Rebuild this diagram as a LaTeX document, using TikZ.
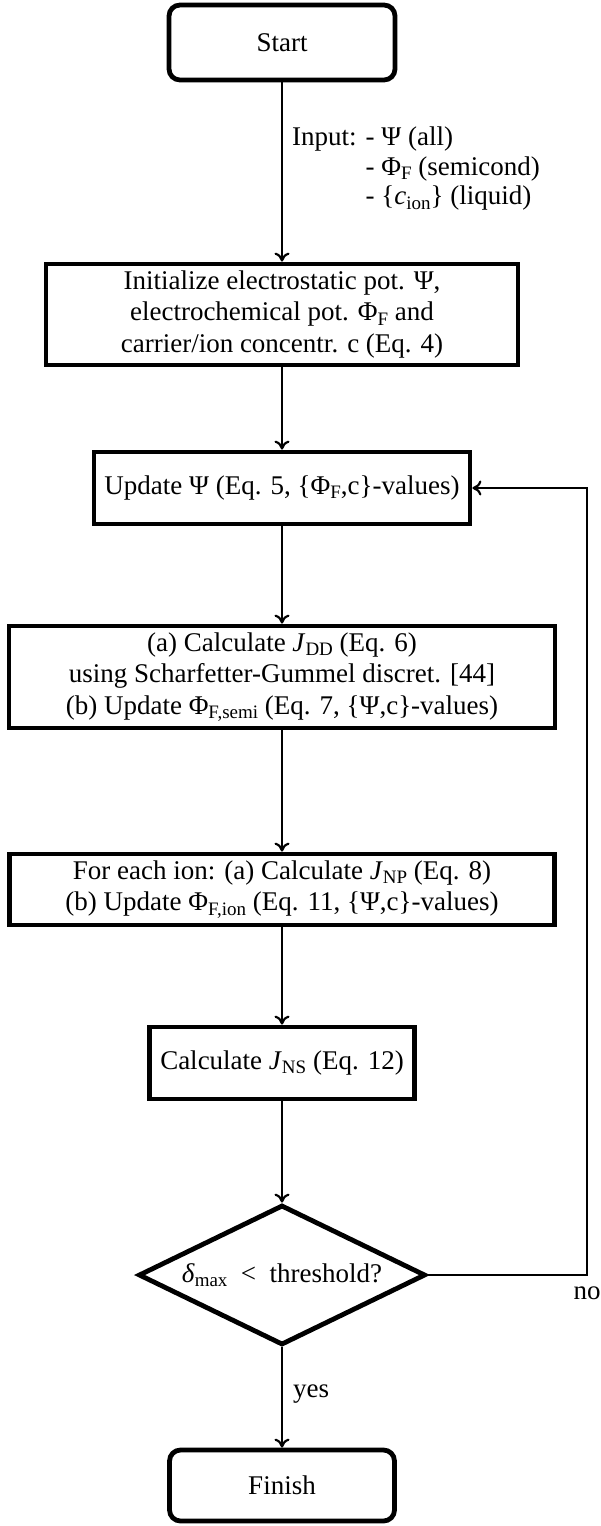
\documentclass[tikz,border=0pt]{standalone}
\usepackage{fontspec}
\setmainfont{Liberation Serif}
\usetikzlibrary{shapes.geometric,arrows.meta}
\newcommand{\lowtxt}[1]{\raisebox{-0.35ex}{\fontsize{19}{19}\selectfont #1}}
\begin{document}
\begin{tikzpicture}[x=1pt,y=-1pt,
  every node/.style={font=\fontsize{27}{31.5}\selectfont},
  box/.style={draw,line width=4.8pt,align=center,inner sep=0pt},
  term/.style={box,rounded corners=11pt},
  arr/.style={line width=2.2pt,-{To[length=9pt,width=15pt]}},
  plain/.style={line width=2.2pt}]
\useasboundingbox (0,0) rectangle (600,1526);
\node[term,minimum width=226pt,minimum height=75pt] (start) at (282,42.5) {Start};
\node[box,minimum width=472pt,minimum height=101pt] (init) at (282,314.5)
  {Initialize electrostatic pot. Ψ,\\ electrochemical pot. Φ\lowtxt{F} and\\ carrier/ion concentr. c (Eq. 4)};
\node[box,minimum width=376pt,minimum height=72pt] (upd) at (282,488)
  {Update Ψ (Eq. 5, \{Φ\lowtxt{F},c\}-values)};
\node[box,minimum width=546pt,minimum height=102pt] (dd) at (282,677)
  {(a) Calculate \textit{J}\lowtxt{DD} (Eq. 6)\\ using Scharfetter-Gummel discret. [44]\\ (b) Update Φ\lowtxt{F,semi} (Eq. 7, \{Ψ,c\}-values)};
\node[box,minimum width=545pt,minimum height=71pt] (np) at (282,889.5)
  {For each ion: (a) Calculate \textit{J}\lowtxt{NP} (Eq. 8)\\ (b) Update Φ\lowtxt{F,ion} (Eq. 11, \{Ψ,c\}-values)};
\node[box,minimum width=265pt,minimum height=72pt] (ns) at (282,1063)
  {Calculate \textit{J}\lowtxt{NS} (Eq. 12)};
\node[box,diamond,minimum width=287pt,minimum height=140pt] (dec) at (282,1275) {};
\node (dectxt) at (dec.center) {\textit{δ}\lowtxt{max}\ \ <\ \ threshold?};
\node[term,minimum width=225pt,minimum height=71pt] (fin) at (282,1485.5) {Finish};
\node[anchor=west,align=left,inner sep=0pt] (inp) at (292,169)
  {\begin{tabular}{@{}l@{ }l@{}}Input: & - Ψ (all)\\[-2pt] & - Φ\lowtxt{F} (semicond)\\[-2pt] & - \{\textit{c}\lowtxt{ion}\} (liquid)\end{tabular}};
\coordinate (fb1) at (587,1275);
\coordinate (fb2) at (587,488);
\draw[arr] (start) -- (init);
\draw[arr] (init) -- (upd);
\draw[arr] (upd) -- (dd);
\draw[arr] (dd) -- (np);
\draw[arr] (np) -- (ns);
\draw[arr] (ns) -- (dec);
\draw[arr] (dec) -- (fin);
\draw[arr] (dec.east) -- (fb1) -- (fb2) -- (upd.east);
\node (no) at (587,1293) {no};
\node[anchor=west,inner sep=0pt] (yes) at (293,1394) {yes};
\end{tikzpicture}
\end{document}
